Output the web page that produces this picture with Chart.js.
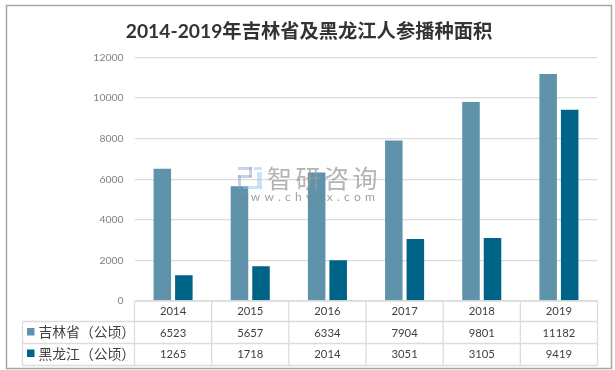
<!DOCTYPE html>
<html>
<head>
<meta charset="utf-8">
<script src="https://cdn.jsdelivr.net/npm/chart.js@4"></script>
<style>
  body { margin: 0; background: #fff; }
  #wrap { width: 615px; height: 370px; }
</style>
</head>
<body>
<div id="wrap"><canvas id="areaChart" width="615" height="370"></canvas></div>
<script>
const titleText = '2014-2019年吉林省及黑龙江人参播种面积';
const years = ['2014', '2015', '2016', '2017', '2018', '2019'];
const jilinLabel = '吉林省（公顷）';
const heilongjiangLabel = '黑龙江（公顷）';
const jilin = [6523, 5657, 6334, 7904, 9801, 11182];
const heilongjiang = [1265, 1718, 2014, 3051, 3105, 9419];
const jilinColor = '#5f93ab';
const heilongjiangColor = '#006388';
const latinFont = 'Lato, "Noto Sans CJK SC", sans-serif';

// tabla de datos debajo del eje + marco exterior
const dataTable = {
  id: 'dataTable',
  afterDraw(chart) {
    const ctx = chart.ctx;
    const x = chart.scales.x;
    const top = chart.chartArea.bottom;
    const rows = [top, 321.5, 343.5, 365.5];
    const left = chart.chartArea.left;
    const right = chart.chartArea.right;
    const step = (right - left) / years.length;

    ctx.save();
    ctx.strokeStyle = '#dcdcdc';
    ctx.lineWidth = 1.3;
    ctx.beginPath();
    ctx.moveTo(left, rows[0]); ctx.lineTo(right, rows[0]);
    [1, 2, 3].forEach(i => {
      ctx.moveTo(22.5, rows[i]); ctx.lineTo(right, rows[i]);
    });
    ctx.moveTo(22.5, rows[1]); ctx.lineTo(22.5, rows[3]);
    for (let i = 0; i <= years.length; i++) {
      ctx.moveTo(left + i * step, rows[0]);
      ctx.lineTo(left + i * step, rows[3]);
    }
    ctx.stroke();

    ctx.font = '11.3px ' + latinFont;
    ctx.fillStyle = '#404040';
    ctx.textAlign = 'center';
    ctx.textBaseline = 'middle';
    years.forEach((y, i) => {
      ctx.fillText(String(jilin[i]), x.getPixelForValue(i), 333.5);
      ctx.fillText(String(heilongjiang[i]), x.getPixelForValue(i), 354.5);
    });

    ctx.textAlign = 'left';
    ctx.font = '13.8px "Noto Sans CJK SC", sans-serif';
    ctx.fillStyle = jilinColor;
    ctx.fillRect(27, 328, 7.5, 7.5);
    ctx.fillStyle = heilongjiangColor;
    ctx.fillRect(27, 349.5, 7.5, 7.5);
    ctx.fillStyle = '#404040';
    ctx.fillText(jilinLabel, 38.5, 332);
    ctx.fillText(heilongjiangLabel, 38.5, 353.5);

    ctx.strokeStyle = '#a6a6a6';
    ctx.lineWidth = 1.5;
    ctx.strokeRect(6.5, 5.5, 605, 363);
    ctx.restore();
  }
};

// marca de agua
const watermark = {
  id: 'watermark',
  afterDatasetsDraw(chart) {
    const ctx = chart.ctx;
    ctx.save();
    ctx.globalAlpha = 0.45;
    ctx.fillStyle = '#8a9cc4';
    ctx.fillRect(238, 167, 14, 3);
    ctx.fillRect(249, 167, 3, 10);
    ctx.fillRect(238, 175, 14, 3);
    ctx.fillRect(238, 175, 3, 14);
    ctx.fillStyle = '#8cc4e8';
    ctx.fillRect(254, 167, 8, 3);
    ctx.fillRect(257, 172, 5, 15);
    ctx.fillRect(243, 186, 19, 3);
    ctx.globalAlpha = 0.75;
    ctx.fillStyle = '#9a9a9a';
    ctx.textAlign = 'left';
    ctx.textBaseline = 'middle';
    ctx.font = '25px "Noto Sans CJK SC", sans-serif';
    ctx.letterSpacing = '3.5px';
    ctx.fillText('智研咨询', 267, 178);
    ctx.font = '12px ' + latinFont;
    ctx.letterSpacing = '4.3px';
    ctx.fillStyle = '#808080';
    ctx.fillText('www.chyxx.com', 237, 197);
    ctx.restore();
  }
};

new Chart(document.getElementById('areaChart').getContext('2d'), {
  type: 'bar',
  data: {
    labels: years,
    datasets: [
      { label: jilinLabel, data: jilin, backgroundColor: jilinColor },
      { label: heilongjiangLabel, data: heilongjiang, backgroundColor: heilongjiangColor }
    ]
  },
  options: {
    responsive: false,
    animation: false,
    layout: { padding: { left: 20.5, right: 17.5 } },
    datasets: { bar: { categoryPercentage: 0.558, barPercentage: 0.814 } },
    plugins: {
      legend: { display: false },
      tooltip: { enabled: false },
      title: {
        display: true,
        text: titleText,
        color: '#333333',
        font: { family: latinFont, size: 19.3, weight: 'bold' },
        padding: { top: 20, bottom: 14.34 }
      }
    },
    scales: {
      x: {
        afterFit(scale) { scale.height = 69; },
        grid: { display: false, drawTicks: false },
        border: { display: false },
        ticks: { color: '#404040', font: { family: latinFont, size: 11.3 }, padding: 4, maxRotation: 0 }
      },
      y: {
        min: 0,
        max: 12000,
        afterFit(scale) { scale.width = 114; },
        grid: { color: '#dcdcdc', lineWidth: 1.3, drawTicks: false },
        border: { display: false },
        ticks: {
          stepSize: 2000,
          color: '#7f7f7f',
          font: { family: latinFont, size: 10.4 },
          padding: 11,
          callback: value => String(value)
        }
      }
    }
  },
  plugins: [watermark, dataTable]
});
</script>
</body>
</html>
